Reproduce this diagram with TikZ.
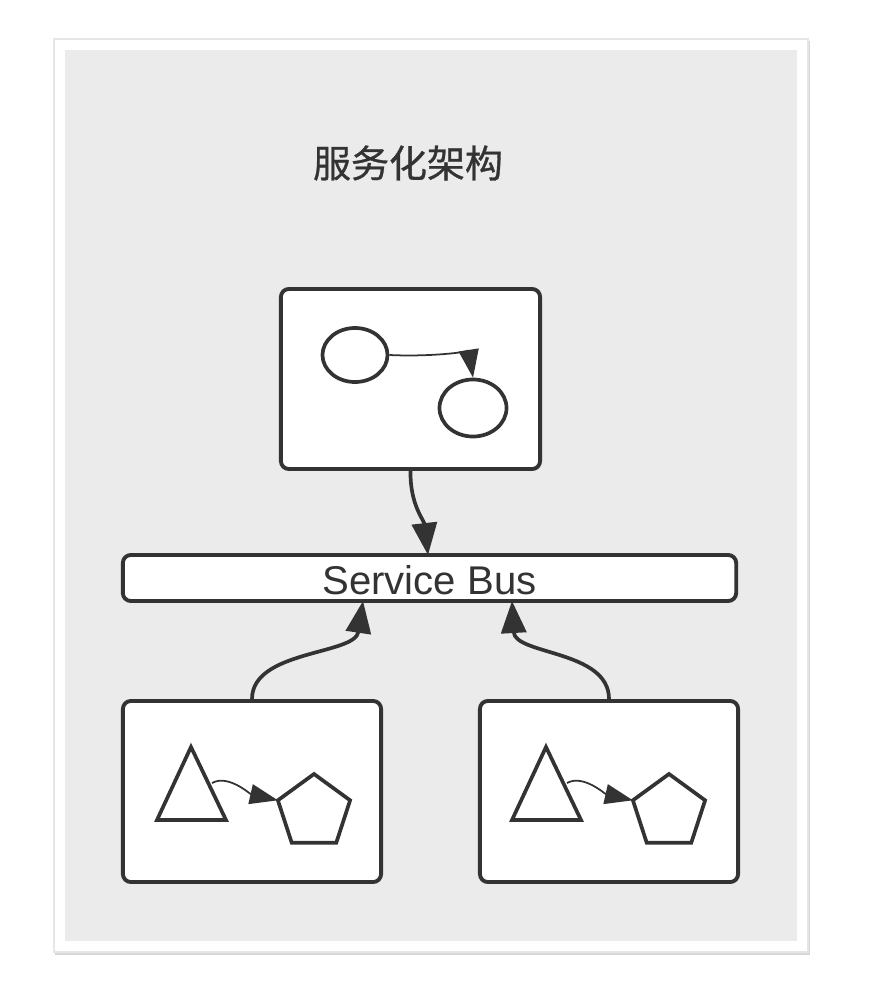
\documentclass[tikz,border=0pt]{standalone}
\usepackage{fontspec}
\setmainfont{Liberation Sans}
\newfontfamily\cjk[FakeBold=0.8]{Noto Sans CJK SC}
\usetikzlibrary{shapes.geometric,arrows.meta}
\definecolor{ink}{HTML}{333333}
\definecolor{panel}{HTML}{EBEBEB}
\definecolor{shadowc}{HTML}{D6D6D6}
\definecolor{cardline}{HTML}{E6E6E6}
\tikzset{
  box/.style={draw=ink, line width=1.1pt, fill=white, rounded corners=0.08cm, inner sep=0pt},
  oval/.style={draw=ink, line width=1.05pt, fill=white, ellipse, inner sep=0pt, minimum width=0.65cm, minimum height=0.54cm},
  shapeline/.style={draw=ink, line width=1.05pt, fill=white, line join=miter},
  bigarrow/.style={draw=ink, line width=1.05pt, -{Triangle[length=0.32cm, width=0.25cm]}},
  smallarrow/.style={draw=ink, line width=0.5pt, -{Triangle[length=0.28cm, width=0.2cm]}},
}
\begin{document}
\begin{tikzpicture}[x=0.01cm, y=-0.01cm]
\useasboundingbox (0,0) rectangle (878,988);
\fill[white] (0,0) rectangle (878,988);
% card with shadow
\fill[shadowc] (55,41) rectangle (810,955);
\filldraw[fill=white, draw=cardline, line width=0.3pt] (54,39) rectangle (808,952);
\fill[panel] (65,50) rectangle (797,941);
% title
\node[text=ink, font={\cjk\fontsize{10.8pt}{12pt}\selectfont}] (title) at (408,163) {服务化架构};
% top box
\node[box, minimum width=2.59cm, minimum height=1.80cm] (top) at (410.5,379) {};
\node[oval] (e1) at (355,355) {};
\node[oval, minimum width=0.67cm, minimum height=0.57cm] (e2) at (473,408) {};
\draw[smallarrow] (e1.east) .. controls (430,357) and (469,352) .. (e2.north);
% service bus
\node[box, minimum width=6.13cm, minimum height=0.46cm] (bus) at (429.5,578) {};
\node[text=ink, font=\fontsize{11.4pt}{13pt}\selectfont, anchor=base, inner sep=0pt] (buslabel) at (429.5,594) {Service Bus};
\coordinate (busL) at (363,601);
\coordinate (busR) at (512,601);
\coordinate (busT) at (428,555);
\draw[bigarrow] (top.south) .. controls (410,505) and (424,520) .. (busT);
% bottom boxes
\node[box, minimum width=2.58cm, minimum height=1.81cm] (L) at (252,791.5) {};
\node[box, minimum width=2.58cm, minimum height=1.81cm] (R) at (609,791.5) {};
\draw[bigarrow] (L.north) .. controls (252,650) and (355,655) .. (busL);
\draw[bigarrow] (R.north) .. controls (609,650) and (515,655) .. (busR);
% left box shapes
\draw[shapeline] (191,747) -- (226,820) -- (157,820) -- cycle;
\coordinate (triL) at (212,783);
\draw[shapeline] (314,774) -- (350.1,800.3) -- (336.3,842.7) -- (291.7,842.7) -- (277.9,800.3) -- cycle;
\coordinate (pentL) at (277.9,800.3);
\draw[smallarrow] (triL) .. controls (228,774) and (250,794) .. (pentL);
% right box shapes
\draw[shapeline] (546,747) -- (581,820) -- (512,820) -- cycle;
\coordinate (triR) at (567,783);
\draw[shapeline] (669,774) -- (705.1,800.3) -- (691.3,842.7) -- (646.7,842.7) -- (632.9,800.3) -- cycle;
\coordinate (pentR) at (632.9,800.3);
\draw[smallarrow] (triR) .. controls (583,774) and (605,794) .. (pentR);
\end{tikzpicture}
\end{document}
